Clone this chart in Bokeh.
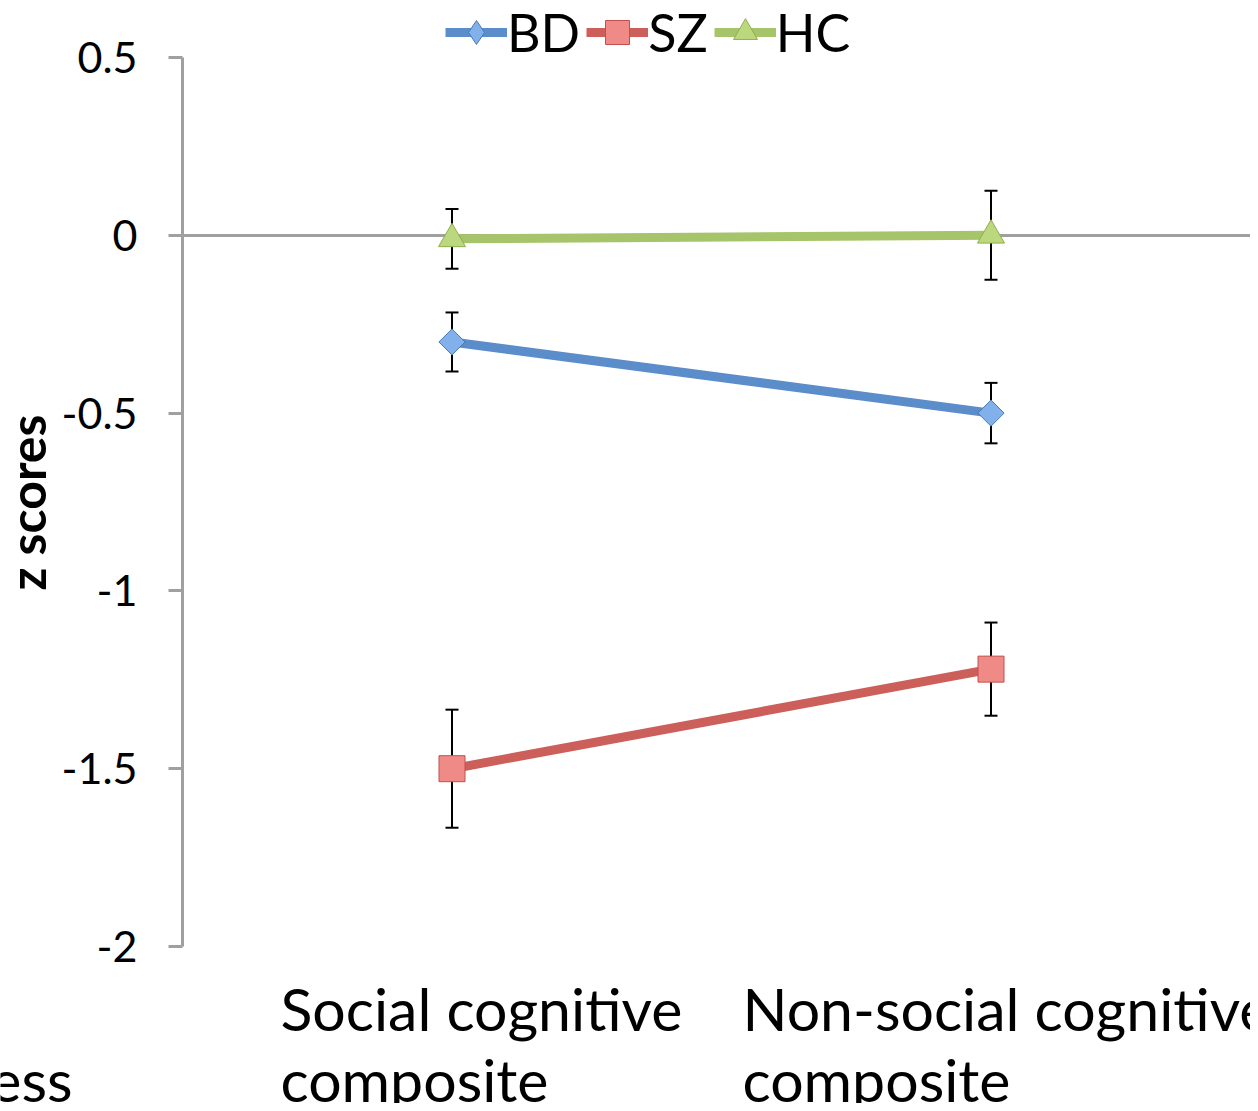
import math
from bokeh.plotting import figure
from bokeh.models import (Range1d, ColumnDataSource, Whisker, TeeHead, LinearAxis,
                          Legend, LegendItem, Label, FixedTicker)
from bokeh.embed import file_html
from bokeh.resources import INLINE

# ---------------- data ----------------
categories = ["Social cognitive composite", "Non-social cognitive composite"]
groups = ["BD", "SZ", "HC"]
bd_mean = [-0.30, -0.50]
bd_err = [0.083, 0.085]
sz_mean = [-1.50, -1.22]
sz_err = [0.166, 0.131]
hc_mean = [-0.01, 0.00]
hc_err = [0.084, 0.125]
y_ticks = [0.5, 0, -0.5, -1, -1.5, -2]
y_tick_labels = ["0.5", "0", "-0.5", "-1", "-1.5", "-2"]
cat_label_lines = [["Social cognitive", "composite"], ["Non-social cognitive", "composite"]]
y_axis_title = "z scores"
cropped_text = "ess"

FONT = "Lato"
W, H = 1250, 1103
# layout of the plotting area (pixels inside the figure)
AX_X, TOP, BOT, CAT_PX = 182, 57, 946, 539
n_cat = len(categories)
ymin, ymax = min(y_ticks), max(y_ticks)
ppu = (BOT - TOP) / (ymax - ymin)

x_cat = [i + 0.5 for i in range(n_cat)]

p = figure(width=W, height=H,
           x_range=Range1d(-AX_X / CAT_PX, (W - AX_X) / CAT_PX),
           y_range=Range1d(ymin - (H - BOT) / ppu, ymax + TOP / ppu),
           output_backend="svg", toolbar_location=None,
           x_axis_location=None, y_axis_location=None,
           min_border=0)
p.outline_line_color = None
p.grid.visible = False
p.background_fill_color = "white"

# y axis (fixed at the start of the category range)
yax = LinearAxis(fixed_location=0, bounds=(ymin, ymax),
                 ticker=FixedTicker(ticks=y_ticks),
                 major_label_overrides={t: l for t, l in zip(y_ticks, y_tick_labels)},
                 axis_line_color="#a0a0a0", axis_line_width=3,
                 major_tick_line_color="#a0a0a0", major_tick_line_width=3,
                 major_tick_out=14, major_tick_in=0,
                 minor_tick_line_color=None,
                 major_label_text_font=FONT, major_label_text_font_size="43px",
                 major_label_text_color="black", major_label_standoff=31)
p.add_layout(yax, "left")

# horizontal axis crossing at 0 (drawn beneath the series)
xax = LinearAxis(fixed_location=0, bounds=(0, n_cat),
                 ticker=FixedTicker(ticks=[]),
                 axis_line_color="#a0a0a0", axis_line_width=3,
                 major_tick_line_color=None, minor_tick_line_color=None,
                 major_label_text_alpha=0, level="underlay")
p.add_layout(xax, "below")

# name, mean, err, line colour, marker, fill, marker outline, size, angle, legend marker
series = [
    ("BD", bd_mean, bd_err, "#5a8dc9", "square", "#82b0ea", "#4a7ab5", 18.5, math.pi / 4, "diamond"),
    ("SZ", sz_mean, sz_err, "#cd5f5a", "square", "#f08a86", "#c0504d", 26, 0.0, None),
    ("HC", hc_mean, hc_err, "#a6c46a", "triangle", "#bcd87e", "#8fae4e", 27, 0.0, None),
]

items = []
for name, mean, err, lc, marker, fc, mlc, msize, ang, leg_marker in series:
    src = ColumnDataSource(dict(
        x=x_cat, y=mean,
        upper=[m + e for m, e in zip(mean, err)],
        lower=[m - e for m, e in zip(mean, err)]))
    w = Whisker(base="x", upper="upper", lower="lower", source=src,
                dimension="height", line_color="black", line_width=2,
                level="underlay",
                upper_head=TeeHead(size=13, line_color="black", line_width=2),
                lower_head=TeeHead(size=13, line_color="black", line_width=2))
    p.add_layout(w)
    ln = p.line("x", "y", source=src, line_color=lc, line_width=9)
    leg = None
    if leg_marker is not None:
        # same points as a plain diamond (hidden under the main marker); used by the legend
        leg = p.scatter("x", "y", source=src, marker=leg_marker, size=24,
                        fill_color=fc, line_color=mlc, line_width=1)
    sc = p.scatter("x", "y", source=src, marker=marker, size=msize, angle=ang,
                   fill_color=fc, line_color=mlc, line_width=1)
    items.append((name, ln, leg if leg is not None else sc))

LEG_H = 60
legend = Legend(items=[LegendItem(label=n, renderers=[l, s]) for n, l, s in items],
                orientation="horizontal", location=(445, H - 33 - LEG_H // 2),
                glyph_width=62, glyph_height=LEG_H, label_standoff=0, spacing=6,
                padding=0, margin=0, border_line_color=None,
                background_fill_alpha=0,
                label_text_font=FONT, label_text_font_size="52px",
                label_text_color="black")
p.add_layout(legend, "center")


def px_to_x(px):
    return (px - AX_X) / CAT_PX


def px_to_y(py):
    return ymax - (py - TOP) / ppu


# y axis title (rotated, centred on its middle line)
p.add_layout(Label(x=px_to_x(26), y=px_to_y(502), text=y_axis_title,
                   angle=math.pi / 2, text_align="center", text_baseline="middle",
                   text_font=FONT, text_font_style="bold",
                   text_font_size="50px", text_color="black"))

# category labels (left aligned, two lines)
cat_left_px = [280, 742]
for lx, lines in zip(cat_left_px, cat_label_lines):
    for k, line in enumerate(lines):
        p.add_layout(Label(x=px_to_x(lx), y=px_to_y(1008 + 71 * k),
                           text=line, text_align="left", text_baseline="middle",
                           text_font=FONT, text_font_size="59px", text_color="black"))

# cropped text fragment at bottom left
p.add_layout(Label(x=px_to_x(72), y=px_to_y(1079), text=cropped_text,
                   text_align="right", text_baseline="middle",
                   text_font=FONT, text_font_size="59px", text_color="black"))

open("out.html", "w").write(file_html(p, INLINE))
